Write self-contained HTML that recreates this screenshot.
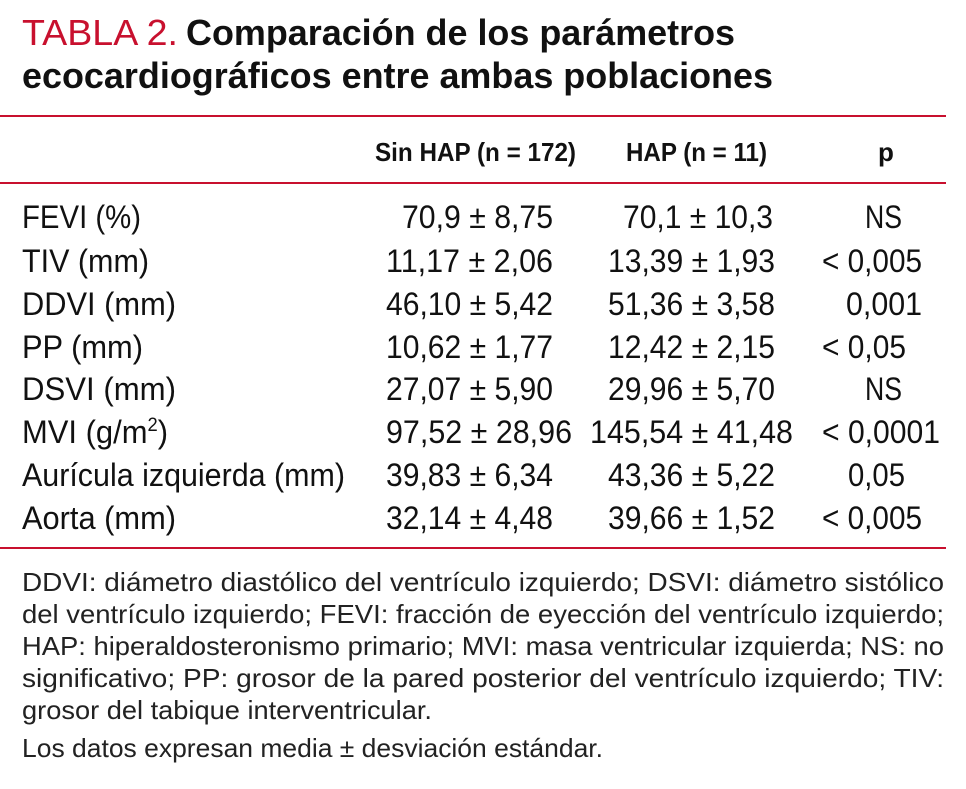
<!DOCTYPE html>
<html><head><meta charset="utf-8"><style>
html,body{margin:0;padding:0;background:#fff;}
svg{display:block;font-family:"Liberation Sans",sans-serif;}
</style></head><body>
<svg width="966" height="789" viewBox="0 0 966 789">
<g>
<text x="22" y="45" font-size="36" fill="#c8102e" textLength="156" lengthAdjust="spacingAndGlyphs">TABLA 2.</text>
<text x="186" y="45" font-size="36" font-weight="bold" fill="#111" textLength="549" lengthAdjust="spacingAndGlyphs">Comparación de los parámetros</text>
<text x="22" y="88" font-size="36" font-weight="bold" fill="#111" textLength="751" lengthAdjust="spacingAndGlyphs">ecocardiográficos entre ambas poblaciones</text>
</g>
<rect x="0" y="115" width="946" height="2" fill="#c8102e"/>
<g font-size="26" font-weight="bold" fill="#111">
<text x="375" y="161" textLength="201" lengthAdjust="spacingAndGlyphs">Sin HAP (n = 172)</text>
<text x="626" y="161" textLength="141" lengthAdjust="spacingAndGlyphs">HAP (n = 11)</text>
<text x="878" y="161">p</text>
</g>
<rect x="0" y="182" width="946" height="2" fill="#c8102e"/>
<g font-size="32" fill="#111">
<g>
<text x="22" y="228" textLength="119" lengthAdjust="spacingAndGlyphs">FEVI (%)</text>
<text x="402" y="228" textLength="151" lengthAdjust="spacingAndGlyphs">70,9 ± 8,75</text>
<text x="623" y="228" textLength="150" lengthAdjust="spacingAndGlyphs">70,1 ± 10,3</text>
<text x="865" y="228" textLength="37" lengthAdjust="spacingAndGlyphs">NS</text></g>
<g>
<text x="22" y="272" textLength="127" lengthAdjust="spacingAndGlyphs">TIV (mm)</text>
<text x="386" y="272" textLength="167" lengthAdjust="spacingAndGlyphs">11,17 ± 2,06</text>
<text x="608" y="272" textLength="167" lengthAdjust="spacingAndGlyphs">13,39 ± 1,93</text>
<text x="822" y="272" textLength="100" lengthAdjust="spacingAndGlyphs">&lt; 0,005</text></g>
<g>
<text x="22" y="315" textLength="154" lengthAdjust="spacingAndGlyphs">DDVI (mm)</text>
<text x="386" y="315" textLength="167" lengthAdjust="spacingAndGlyphs">46,10 ± 5,42</text>
<text x="608" y="315" textLength="167" lengthAdjust="spacingAndGlyphs">51,36 ± 3,58</text>
<text x="846" y="315" textLength="76" lengthAdjust="spacingAndGlyphs">0,001</text></g>
<g>
<text x="22" y="358" textLength="121" lengthAdjust="spacingAndGlyphs">PP (mm)</text>
<text x="386" y="358" textLength="167" lengthAdjust="spacingAndGlyphs">10,62 ± 1,77</text>
<text x="608" y="358" textLength="167" lengthAdjust="spacingAndGlyphs">12,42 ± 2,15</text>
<text x="822" y="358" textLength="84" lengthAdjust="spacingAndGlyphs">&lt; 0,05</text></g>
<g>
<text x="22" y="400" textLength="154" lengthAdjust="spacingAndGlyphs">DSVI (mm)</text>
<text x="386" y="400" textLength="167" lengthAdjust="spacingAndGlyphs">27,07 ± 5,90</text>
<text x="608" y="400" textLength="167" lengthAdjust="spacingAndGlyphs">29,96 ± 5,70</text>
<text x="865" y="400" textLength="37" lengthAdjust="spacingAndGlyphs">NS</text></g>
<g>
<text x="22" y="443" textLength="146" lengthAdjust="spacingAndGlyphs">MVI (g/m<tspan font-size="19" dy="-12">2</tspan><tspan dy="12">)</tspan></text>
<text x="386" y="443" textLength="186" lengthAdjust="spacingAndGlyphs">97,52 ± 28,96</text>
<text x="590" y="443" textLength="203" lengthAdjust="spacingAndGlyphs">145,54 ± 41,48</text>
<text x="822" y="443" textLength="118" lengthAdjust="spacingAndGlyphs">&lt; 0,0001</text></g>
<g>
<text x="22" y="486" textLength="323" lengthAdjust="spacingAndGlyphs">Aurícula izquierda (mm)</text>
<text x="386" y="486" textLength="167" lengthAdjust="spacingAndGlyphs">39,83 ± 6,34</text>
<text x="608" y="486" textLength="167" lengthAdjust="spacingAndGlyphs">43,36 ± 5,22</text>
<text x="848" y="486" textLength="57" lengthAdjust="spacingAndGlyphs">0,05</text></g>
<g>
<text x="22" y="529" textLength="154" lengthAdjust="spacingAndGlyphs">Aorta (mm)</text>
<text x="386" y="529" textLength="167" lengthAdjust="spacingAndGlyphs">32,14 ± 4,48</text>
<text x="608" y="529" textLength="167" lengthAdjust="spacingAndGlyphs">39,66 ± 1,52</text>
<text x="822" y="529" textLength="100" lengthAdjust="spacingAndGlyphs">&lt; 0,005</text></g>
</g>
<rect x="0" y="547" width="946" height="2" fill="#c8102e"/>
<g font-size="26" fill="#222">
<text x="22" y="591" textLength="922" lengthAdjust="spacingAndGlyphs">DDVI: diámetro diastólico del ventrículo izquierdo; DSVI: diámetro sistólico</text>
<text x="22" y="623" textLength="922" lengthAdjust="spacingAndGlyphs">del ventrículo izquierdo; FEVI: fracción de eyección del ventrículo izquierdo;</text>
<text x="22" y="655" textLength="922" lengthAdjust="spacingAndGlyphs">HAP: hiperaldosteronismo primario; MVI: masa ventricular izquierda; NS: no</text>
<text x="22" y="687" textLength="922" lengthAdjust="spacingAndGlyphs">significativo; PP: grosor de la pared posterior del ventrículo izquierdo; TIV:</text>
<text x="22" y="719" textLength="410" lengthAdjust="spacingAndGlyphs">grosor del tabique interventricular.</text>
<text x="22" y="757" textLength="581" lengthAdjust="spacingAndGlyphs">Los datos expresan media ± desviación estándar.</text>
</g>
</svg>
</body></html>
